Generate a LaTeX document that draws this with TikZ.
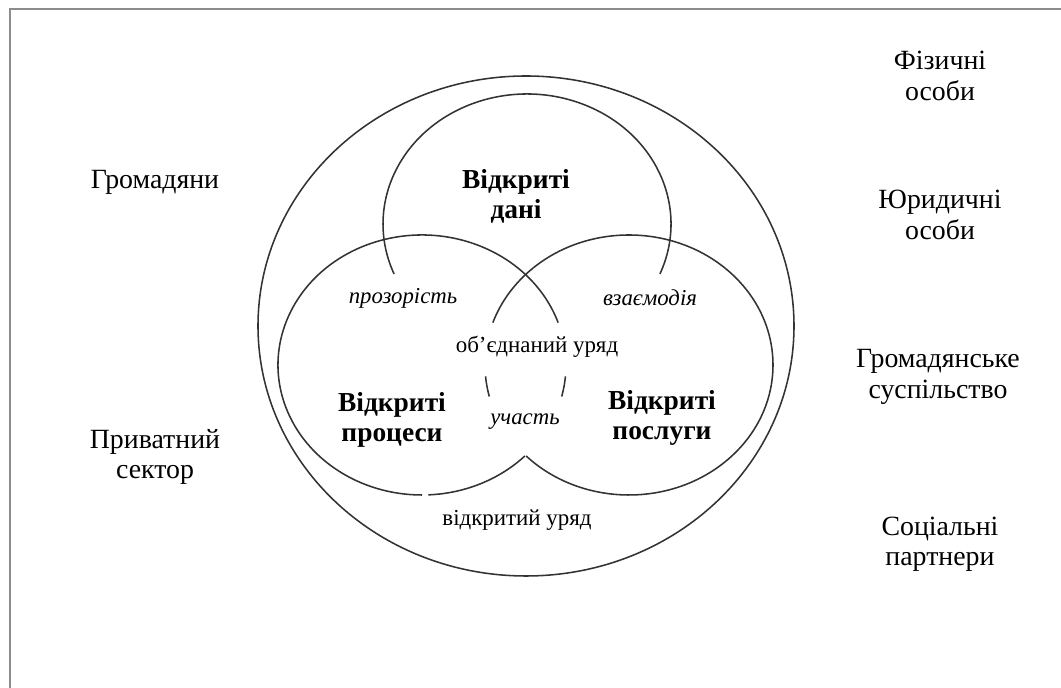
\documentclass[tikz,border=0pt]{standalone}
\usepackage{fontspec}
\setmainfont{Liberation Serif}

\begin{document}
\begin{tikzpicture}[x=0.025cm,y=0.025cm,line width=1.1pt]

\def\radx{144}
\def\rady{130}

\tikzset{
	kreislinie/.style={draw=black!80},
	rahmen/.style={draw=black!45,line width=1.8pt},
	aussentext/.style={align=center,font=\fontsize{19.8}{21.5}\selectfont},
	haupttext/.style={align=center,font=\fontsize{19.5}{21.5}\selectfont\bfseries},
	innentext/.style={font=\fontsize{16.3}{18}\selectfont},
	schraegtext/.style={font=\fontsize{16.2}{18}\selectfont\itshape}
}

\def\teilbogen#1#2#3{
	\draw[kreislinie] (#1) ++({\radx*cos(#2)},{\rady*sin(#2)}) arc[start angle=#2,end angle=#3,x radius=\radx,y radius=\rady];
}

\useasboundingbox (0,0) rectangle (1061,688);
\draw[rahmen] (10,0)--(10,679)--(1061,679);

\coordinate (aussen) at (526,362);
\coordinate (daten) at (527,464);
\coordinate (prozesse) at (422,323);
\coordinate (dienste) at (629,323);

\draw[kreislinie] (aussen) ellipse[x radius=268,y radius=250];

\teilbogen{daten}{-22.6}{202.6}
\teilbogen{prozesse}{19}{270}
\teilbogen{prozesse}{272.5}{315.6}
\teilbogen{prozesse}{-14}{-5}
\teilbogen{dienste}{-135.6}{161}
\teilbogen{dienste}{185}{194}

% add image content here
\node[haupttext] (offenedaten) at (516,492) {Відкриті\\дані};
\node[haupttext] (offeneprozesse) at (392,268) {Відкриті\\процеси};
\node[haupttext] (offenedienste) at (662,270) {Відкриті\\послуги};

\node[schraegtext] (transparenz) at (403,390) {прозорість};
\node[schraegtext] (interaktion) at (650,390) {взаємодія};
\node[schraegtext] (beteiligung) at (525,266) {участь};
\node[innentext] (vereint) at (537,341) {об’єднаний уряд};
\node[innentext] (offen) at (517,168) {відкритий уряд};

\node[aussentext] (buerger) at (155,506) {Громадяни};
\node[aussentext] (privat) at (155,231) {Приватний\\сектор};
\node[aussentext] (natuerlich) at (940,612) {Фізичні\\особи};
\node[aussentext] (juristisch) at (940,473) {Юридичні\\особи};
\node[aussentext] (zivil) at (938,311) {Громадянське\\суспільство};
\node[aussentext] (sozial) at (940,144) {Соціальні\\партнери};

\end{tikzpicture}
\end{document}
